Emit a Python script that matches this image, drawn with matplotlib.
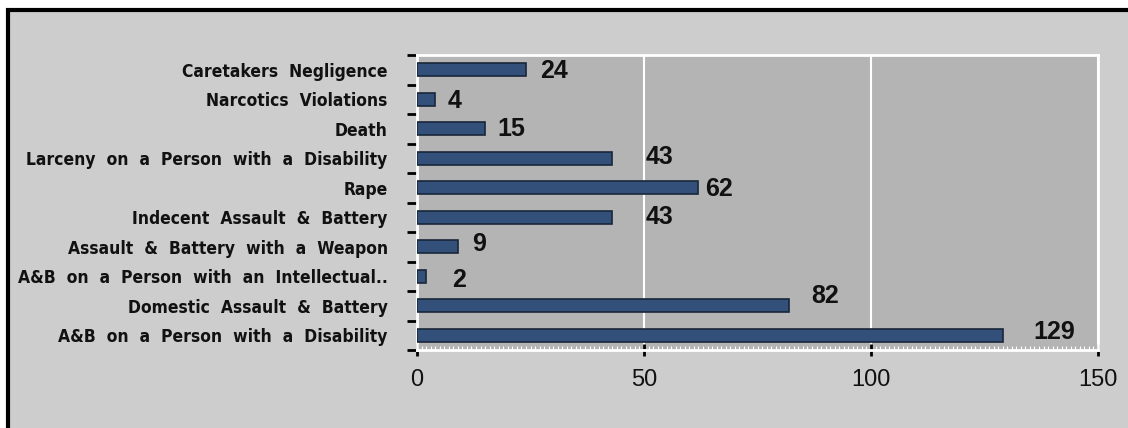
import matplotlib.pyplot as plt
from matplotlib.patches import Rectangle
from matplotlib.ticker import MultipleLocator

# data, bottom to top
kategorier = [
    "A&B  on  a  Person  with  a  Disability",
    "Domestic  Assault  &  Battery",
    "A&B  on  a  Person  with  an  Intellectual..",
    "Assault  &  Battery  with  a  Weapon",
    "Indecent  Assault  &  Battery",
    "Rape",
    "Larceny  on  a  Person  with  a  Disability",
    "Death",
    "Narcotics  Violations",
    "Caretakers  Negligence",
]
antall = [129, 82, 2, 9, 43, 62, 43, 15, 4, 24]

# label offsets in points (x, y)
dx = [22, 16, 19, 10, 24, 5, 24, 9, 9, 10]
dy = [2, 7, -3, 2, 0, -1, 1, 0, -1, -1]

fig = plt.figure(figsize=(11.28, 4.28), dpi=100, facecolor="white")
fig.patches.append(Rectangle((8/1128, -0.05), 1.1, 1 - 10/428 + 0.05, transform=fig.transFigure,
                             facecolor="#cdcdcd", edgecolor="black", linewidth=3, zorder=-10))

ax = fig.add_axes([417/1128, 78/428, 681/1128, 295/428])
ax.set_zorder(5)
ax.set_facecolor("#b4b4b4")

y = range(len(kategorier))
ax.barh(y, antall, height=0.45, color="#33507a", edgecolor="#18263a", linewidth=1.2, zorder=3)

for i, v in enumerate(antall):
    ax.annotate(str(v), (v, i), xytext=(dx[i], dy[i]), textcoords="offset points",
                ha="left", va="center", fontsize=18, fontweight="bold",
                family="Liberation Sans", color="#111111", zorder=4)

ax.set_xlim(0, 150)
ax.set_ylim(-0.5, 9.5)
ax.set_xticks([0, 50, 100, 150])
ax.set_xticklabels(["0", "50", "100", "150"], family="Liberation Sans", fontsize=17, color="#111111")
ax.xaxis.set_minor_locator(MultipleLocator(1))
ax.set_yticks(list(y))
ax.set_yticklabels(kategorier, family="DejaVu Sans", fontstretch="condensed",
                   fontsize=12.5, fontweight="bold", color="#111111")
ax.set_yticks([i - 0.5 for i in range(len(kategorier) + 1)], minor=True)
ax.tick_params(axis="y", which="major", length=0, pad=21)
ax.tick_params(axis="y", which="minor", length=7, width=2, color="black", direction="out")
ax.tick_params(axis="x", which="major", length=8, width=2, color="black", direction="inout", pad=10)
ax.tick_params(axis="x", which="minor", length=3, width=0.8, color="white", direction="in")

ax.grid(axis="x", which="major", color="white", linewidth=1.5, zorder=1)
for s in ax.spines.values():
    s.set_color("white")
    s.set_linewidth(2)

plt.savefig("out.png", dpi=100, facecolor=fig.get_facecolor())
